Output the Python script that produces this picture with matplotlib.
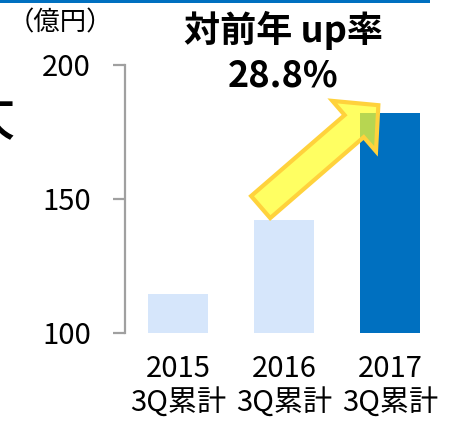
import matplotlib
matplotlib.use('Agg')
import matplotlib.pyplot as plt
from matplotlib.patches import FancyArrowPatch, Rectangle

plt.rcParams['font.family'] = ['Noto Sans CJK JP', 'DejaVu Sans']

# ---- data ----
years = ['2015', '2016', '2017']
period = '3Q累計'
values = [114.5, 142, 182]
bar_colors = ['#D6E6FB', '#D6E6FB', '#0070C0']
yticks = [100, 150, 200]
unit_label = '（億円）'
title_line1 = '対前年 up率'
title_line2 = '28.8%'
side_char = '大'

W, H = 458, 421
fig = plt.figure(figsize=(W / 100, H / 100), dpi=100)
fig.patch.set_facecolor('white')

ax = fig.add_axes([125 / W, (H - 333) / H, 318 / W, 268 / H])
xs = list(range(len(years)))
ax.bar(xs, values, width=60 / 106, color=bar_colors, zorder=2)
ax.set_xlim(-0.5, 2.5)
ax.set_ylim(100, 200)
ax.set_yticks(yticks)
ax.set_xticks(xs)
ax.set_xticklabels([f'{y}\n{period}' for y in years], fontsize=21, linespacing=1.17)
ax.tick_params(axis='x', length=0, pad=15)
ax.tick_params(axis='y', length=8.5, width=1.6, color='#A0A0A0', pad=16, labelsize=21)
for s in ['top', 'right', 'bottom']:
    ax.spines[s].set_visible(False)
ax.spines['left'].set_color('#A0A0A0')
ax.spines['left'].set_linewidth(1.6)

# arrow from 2016 bar to 2017 bar
arrow = FancyArrowPatch(
    posA=(xs[1] - 0.22, values[1] + 5), posB=(xs[2] - 0.11, values[2] + 3),
    arrowstyle='simple,head_length=23,head_width=48,tail_width=21',
    mutation_scale=1, shrinkA=0, shrinkB=0,
    facecolor=(1.0, 1.0, 0.15, 0.72), edgecolor='#FFD23C', linewidth=3,
    joinstyle='miter', zorder=5, clip_on=False)
ax.add_patch(arrow)

# top blue line
fig.add_artist(Rectangle((0, 1 - 3 / H), 430 / W, 3 / H, transform=fig.transFigure,
                         color='#0070C0', lw=0))

fig.text(60 / W, 1 - 23 / H, unit_label, fontsize=19, ha='center', va='center')
fig.text(283 / W, 1 - 30 / H, title_line1, fontsize=26, fontweight='bold',
         ha='center', va='center')
fig.text(283 / W, 1 - 76 / H, title_line2, fontsize=26, fontweight='bold',
         ha='center', va='center')
fig.text(16 / W, 1 - 118 / H, side_char, fontsize=44, ha='right', va='center')

fig.savefig('out.png', dpi=100)
